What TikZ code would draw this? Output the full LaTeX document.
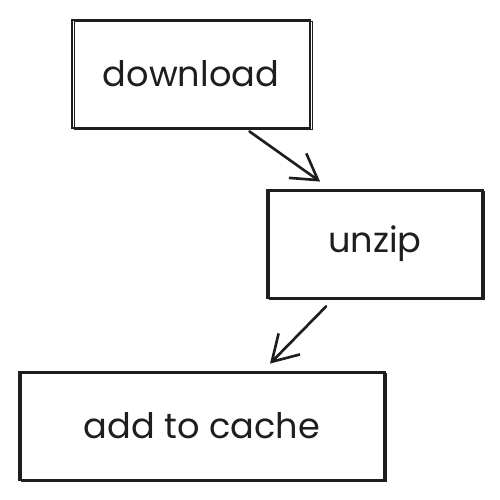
\documentclass[tikz,border=0pt]{standalone}
\usepackage{fontspec}
\setmainfont{Poppins}
\usetikzlibrary{positioning,arrows.meta,calc}
\definecolor{ink}{HTML}{1E1E1E}
\tikzset{
  stepbox/.style = {draw=ink, line width=1.6pt, minimum height=2.16cm, inner sep=0pt,
                    font=\fontsize{20}{24}\selectfont, text=ink,
                    postaction={draw=ink, line width=0.7pt, transform canvas={xshift=1.3pt, yshift=-1pt}}},
  flow/.style    = {draw=ink, line width=1.5pt, line cap=round,
                    -{Straight Barb[length=5mm, width=6mm, line width=1.5pt]}},
}
\begin{document}
\begin{tikzpicture}
\useasboundingbox (0,0) rectangle (10,-10);

% ------------------------------------------------------------------ steps
\node[stepbox, minimum width=4.76cm] (dl) at (3.82,-1.48) {download};
\node[stepbox, minimum width=4.30cm] (uz) at (7.50,-4.88) {unzip};
\node[stepbox, minimum width=7.30cm] (ca) at (4.04,-8.52) {add to cache};

% ------------------------------------------------------------------ arrows
\draw[flow] ([xshift=-1.24cm, yshift=-0.04cm]dl.south east) -- ([xshift=1.08cm, yshift=0.14cm]uz.north west);
\draw[flow] ([xshift=1.20cm, yshift=-0.14cm]uz.south west) -- ([xshift=1.36cm, yshift=0.14cm]ca.north);

\end{tikzpicture}
\end{document}
